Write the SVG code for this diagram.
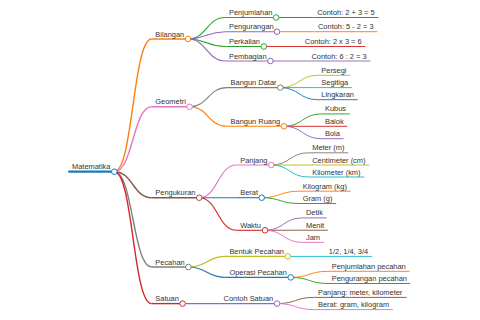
<svg xmlns="http://www.w3.org/2000/svg" width="480" height="320" viewBox="0 0 480 320">
<style>
.t{font-family:"Liberation Sans",Arial,sans-serif;font-size:7.45px;fill:#333}
.k0{stroke:#1f77b4}.k1{stroke:#ff7f0e}.k2{stroke:#2ca02c}.k3{stroke:#d62728}.k4{stroke:#9467bd}
.k5{stroke:#8c564b}.k6{stroke:#e377c2}.k7{stroke:#7f7f7f}.k8{stroke:#bcbd22}.k9{stroke:#17becf}
path,line{fill:none}
.d0{stroke-width:2.2}.d1{stroke-width:1.4}.d2{stroke-width:1.1}.d3{stroke-width:0.95}
circle{fill:#fff;stroke-width:1}
</style>
<rect width="480" height="320" fill="#fff"/>
<g id="connectors">
<path class="k1 d1" d="M114.3 171.7C133 171.7 133 39 151.6 39"/>
<path class="k6 d1" d="M114.3 171.7C133 171.7 133 106.8 151.6 106.8"/>
<path class="k5 d1" d="M114.3 171.7C133 171.7 133 197.7 151.6 197.7"/>
<path class="k7 d1" d="M114.3 171.7C133 171.7 133 267 151.6 267"/>
<path class="k3 d1" d="M114.3 171.7C133 171.7 133 303.6 151.6 303.6"/>
<path class="k2 d2" d="M188 39C206.6 39 206.6 17.5 225.3 17.5"/>
<path class="k4 d2" d="M188 39C206.6 39 206.6 31.7 225.3 31.7"/>
<path class="k2 d2" d="M188 39C206.6 39 206.6 46.5 225.3 46.5"/>
<path class="k4 d2" d="M188 39C206.6 39 206.6 61 225.3 61"/>
<path class="k0 d3" d="M276.2 17.5L313.5 17.5"/>
<path class="k1 d3" d="M277 31.7L314.3 31.7"/>
<path class="k3 d3" d="M263.8 46.5L301.1 46.5"/>
<path class="k4 d3" d="M270.4 61L307.7 61"/>
<path class="k7 d2" d="M189.6 106.8C208.2 106.8 208.2 87.6 226.9 87.6"/>
<path class="k1 d2" d="M189.6 106.8C208.2 106.8 208.2 126.3 226.9 126.3"/>
<path class="k8 d3" d="M280.3 87.6C299 87.6 299 75.3 317.6 75.3"/>
<path class="k9 d3" d="M280.3 87.6L317.6 87.6"/>
<path class="k0 d3" d="M280.3 87.6C299 87.6 299 99.7 317.6 99.7"/>
<path class="k2 d3" d="M284 126.3C302.6 126.3 302.6 113.9 321.3 113.9"/>
<path class="k3 d3" d="M284 126.3L321.3 126.3"/>
<path class="k4 d3" d="M284 126.3C302.6 126.3 302.6 138.7 321.3 138.7"/>
<path class="k6 d2" d="M199.2 197.7C217.8 197.7 217.8 165 236.5 165"/>
<path class="k0 d2" d="M199.2 197.7L236.5 197.7"/>
<path class="k3 d2" d="M199.2 197.7C217.8 197.7 217.8 230.3 236.5 230.3"/>
<path class="k7 d3" d="M271.2 165C289.8 165 289.8 152.8 308.5 152.8"/>
<path class="k8 d3" d="M271.2 165L308.5 165"/>
<path class="k9 d3" d="M271.2 165C289.8 165 289.8 177 308.5 177"/>
<path class="k1 d3" d="M261.7 197.7C280.3 197.7 280.3 191.2 299 191.2"/>
<path class="k2 d3" d="M261.7 197.7C280.3 197.7 280.3 203.5 299 203.5"/>
<path class="k4 d3" d="M265 230.3C283.6 230.3 283.6 217.9 302.3 217.9"/>
<path class="k5 d3" d="M265 230.3L302.3 230.2"/>
<path class="k6 d3" d="M265 230.3C283.6 230.3 283.6 242.4 302.3 242.4"/>
<path class="k8 d2" d="M188.4 267C207 267 207 256.4 225.7 256.4"/>
<path class="k0 d2" d="M188.4 267C207 267 207 277.4 225.7 277.4"/>
<path class="k9 d3" d="M287.8 256.4L325.1 256.4"/>
<path class="k1 d3" d="M290.7 277.4C309.3 277.4 309.3 271.3 328 271.3"/>
<path class="k2 d3" d="M290.7 277.4C309.3 277.4 309.3 283.5 328 283.5"/>
<path class="k4 d2" d="M182.6 303.6L219.9 303.6"/>
<path class="k5 d3" d="M277 303.6C295.6 303.6 295.6 297.4 314.3 297.4"/>
<path class="k6 d3" d="M277 303.6C295.6 303.6 295.6 309.6 314.3 309.6"/>
</g>
<g id="n-matematika"><line class="k0 d0" x1="68.3" y1="171.7" x2="114.3" y2="171.7"/><circle class="k0" cx="114.3" cy="171.7" r="2.8"/><text class="t" x="72" y="169.2">Matematika</text></g>
<g id="n-bilangan"><line class="k1 d1" x1="151.6" y1="39" x2="188" y2="39"/><circle class="k1" cx="188" cy="39" r="2.8"/><text class="t" x="155.3" y="36.5">Bilangan</text></g>
<g id="n-penjumlahan"><line class="k2 d2" x1="225.3" y1="17.5" x2="276.2" y2="17.5"/><circle class="k2" cx="276.2" cy="17.5" r="2.8"/><text class="t" x="229" y="15">Penjumlahan</text></g>
<g id="n-contoh1"><line class="k0 d3" x1="313.5" y1="17.5" x2="378.5" y2="17.5"/><text class="t" x="317.2" y="15">Contoh: 2 + 3 = 5</text></g>
<g id="n-pengurangan"><line class="k4 d2" x1="225.3" y1="31.7" x2="277" y2="31.7"/><circle class="k4" cx="277" cy="31.7" r="2.8"/><text class="t" x="229" y="29.2">Pengurangan</text></g>
<g id="n-contoh2"><line class="k1 d3" x1="314.3" y1="31.7" x2="377.4" y2="31.7"/><text class="t" x="318" y="29.2">Contoh: 5 - 2 = 3</text></g>
<g id="n-perkalian"><line class="k2 d2" x1="225.3" y1="46.5" x2="263.8" y2="46.5"/><circle class="k2" cx="263.8" cy="46.5" r="2.8"/><text class="t" x="229" y="44">Perkalian</text></g>
<g id="n-contoh3"><line class="k3 d3" x1="301.1" y1="46.5" x2="365.4" y2="46.5"/><text class="t" x="304.8" y="44">Contoh: 2 x 3 = 6</text></g>
<g id="n-pembagian"><line class="k4 d2" x1="225.3" y1="61" x2="270.4" y2="61"/><circle class="k4" cx="270.4" cy="61" r="2.8"/><text class="t" x="229" y="58.5">Pembagian</text></g>
<g id="n-contoh4"><line class="k4 d3" x1="307.7" y1="61" x2="370.4" y2="61"/><text class="t" x="311.4" y="58.5">Contoh: 6 : 2 = 3</text></g>
<g id="n-geometri"><line class="k6 d1" x1="151.6" y1="106.8" x2="189.6" y2="106.8"/><circle class="k6" cx="189.6" cy="106.8" r="2.8"/><text class="t" x="155.3" y="104.3">Geometri</text></g>
<g id="n-bangun-datar"><line class="k7 d2" x1="226.9" y1="87.6" x2="280.3" y2="87.6"/><circle class="k7" cx="280.3" cy="87.6" r="2.8"/><text class="t" x="230.6" y="85.1">Bangun Datar</text></g>
<g id="n-persegi"><line class="k8 d3" x1="317.6" y1="75.3" x2="350.3" y2="75.3"/><text class="t" x="321.3" y="72.8">Persegi</text></g>
<g id="n-segitiga"><line class="k9 d3" x1="317.6" y1="87.6" x2="351.9" y2="87.6"/><text class="t" x="321.3" y="85.1">Segitiga</text></g>
<g id="n-lingkaran"><line class="k0 d3" x1="317.6" y1="99.7" x2="357.7" y2="99.7"/><text class="t" x="321.3" y="97.2">Lingkaran</text></g>
<g id="n-bangun-ruang"><line class="k1 d2" x1="226.9" y1="126.3" x2="284" y2="126.3"/><circle class="k1" cx="284" cy="126.3" r="2.8"/><text class="t" x="230.6" y="123.8">Bangun Ruang</text></g>
<g id="n-kubus"><line class="k2 d3" x1="321.3" y1="113.9" x2="349.8" y2="113.9"/><text class="t" x="325" y="111.4">Kubus</text></g>
<g id="n-balok"><line class="k3 d3" x1="321.3" y1="126.3" x2="347.3" y2="126.3"/><text class="t" x="325" y="123.8">Balok</text></g>
<g id="n-bola"><line class="k4 d3" x1="321.3" y1="138.7" x2="343.6" y2="138.7"/><text class="t" x="325" y="136.2">Bola</text></g>
<g id="n-pengukuran"><line class="k5 d1" x1="151.6" y1="197.7" x2="199.2" y2="197.7"/><circle class="k5" cx="199.2" cy="197.7" r="2.8"/><text class="t" x="155.3" y="195.2">Pengukuran</text></g>
<g id="n-panjang"><line class="k6 d2" x1="236.5" y1="165" x2="271.2" y2="165"/><circle class="k6" cx="271.2" cy="165" r="2.8"/><text class="t" x="240.2" y="162.5">Panjang</text></g>
<g id="n-meter"><line class="k7 d3" x1="308.5" y1="152.8" x2="348.2" y2="152.8"/><text class="t" x="312.2" y="150.3">Meter (m)</text></g>
<g id="n-centimeter"><line class="k8 d3" x1="308.5" y1="165" x2="369.3" y2="165"/><text class="t" x="312.2" y="162.5">Centimeter (cm)</text></g>
<g id="n-kilometer"><line class="k9 d3" x1="308.5" y1="177" x2="364.3" y2="177"/><text class="t" x="312.2" y="174.5">Kilometer (km)</text></g>
<g id="n-berat"><line class="k0 d2" x1="236.5" y1="197.7" x2="261.7" y2="197.7"/><circle class="k0" cx="261.7" cy="197.7" r="2.8"/><text class="t" x="240.2" y="195.2">Berat</text></g>
<g id="n-kilogram"><line class="k1 d3" x1="299" y1="191.2" x2="350.7" y2="191.2"/><text class="t" x="302.7" y="188.7">Kilogram (kg)</text></g>
<g id="n-gram"><line class="k2 d3" x1="299" y1="203.5" x2="336.2" y2="203.5"/><text class="t" x="302.7" y="201">Gram (g)</text></g>
<g id="n-waktu"><line class="k3 d2" x1="236.5" y1="230.3" x2="265" y2="230.3"/><circle class="k3" cx="265" cy="230.3" r="2.8"/><text class="t" x="240.2" y="227.8">Waktu</text></g>
<g id="n-detik"><line class="k4 d3" x1="302.3" y1="217.9" x2="326.7" y2="217.9"/><text class="t" x="306" y="215.4">Detik</text></g>
<g id="n-menit"><line class="k5 d3" x1="302.3" y1="230.2" x2="327.9" y2="230.2"/><text class="t" x="306" y="227.7">Menit</text></g>
<g id="n-jam"><line class="k6 d3" x1="302.3" y1="242.4" x2="323.8" y2="242.4"/><text class="t" x="306" y="239.9">Jam</text></g>
<g id="n-pecahan"><line class="k7 d1" x1="151.6" y1="267" x2="188.4" y2="267"/><circle class="k7" cx="188.4" cy="267" r="2.8"/><text class="t" x="155.3" y="264.5">Pecahan</text></g>
<g id="n-bentuk-pecahan"><line class="k8 d2" x1="225.7" y1="256.4" x2="287.8" y2="256.4"/><circle class="k8" cx="287.8" cy="256.4" r="2.8"/><text class="t" x="229.4" y="253.9">Bentuk Pecahan</text></g>
<g id="n-pecahan-contoh"><line class="k9 d3" x1="325.1" y1="256.4" x2="371.9" y2="256.4"/><text class="t" x="328.8" y="253.9">1/2, 1/4, 3/4</text></g>
<g id="n-operasi-pecahan"><line class="k0 d2" x1="225.7" y1="277.4" x2="290.7" y2="277.4"/><circle class="k0" cx="290.7" cy="277.4" r="2.8"/><text class="t" x="229.4" y="274.9">Operasi Pecahan</text></g>
<g id="n-penjumlahan-pecahan"><line class="k1 d3" x1="328" y1="271.3" x2="409.5" y2="271.3"/><text class="t" x="331.7" y="268.8">Penjumlahan pecahan</text></g>
<g id="n-pengurangan-pecahan"><line class="k2 d3" x1="328" y1="283.5" x2="410.3" y2="283.5"/><text class="t" x="331.7" y="281">Pengurangan pecahan</text></g>
<g id="n-satuan"><line class="k3 d1" x1="151.6" y1="303.6" x2="182.6" y2="303.6"/><circle class="k3" cx="182.6" cy="303.6" r="2.8"/><text class="t" x="155.3" y="301.1">Satuan</text></g>
<g id="n-contoh-satuan"><line class="k4 d2" x1="219.9" y1="303.6" x2="277" y2="303.6"/><circle class="k4" cx="277" cy="303.6" r="2.8"/><text class="t" x="223.6" y="301.1">Contoh Satuan</text></g>
<g id="n-satuan-panjang"><line class="k5 d3" x1="314.3" y1="297.4" x2="406.6" y2="297.4"/><text class="t" x="318" y="294.9">Panjang: meter, kilometer</text></g>
<g id="n-satuan-berat"><line class="k6 d3" x1="314.3" y1="309.6" x2="392.9" y2="309.6"/><text class="t" x="318" y="307.1">Berat: gram, kilogram</text></g>
</svg>
